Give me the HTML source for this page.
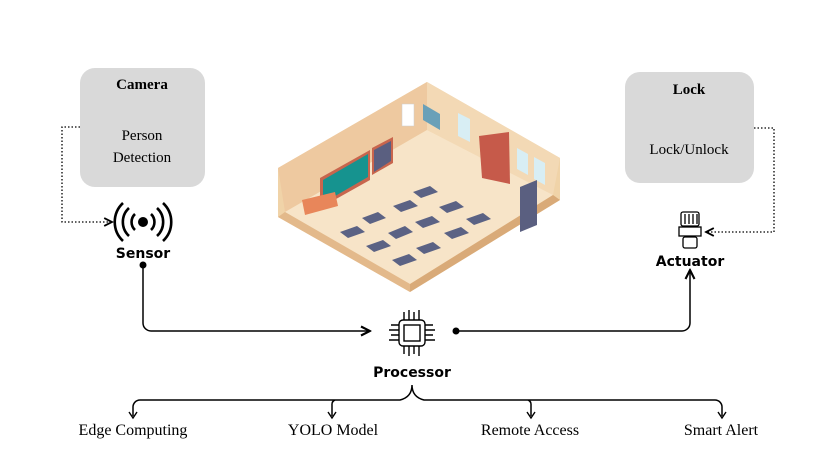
<!DOCTYPE html>
<html><head><meta charset="utf-8"><style>
body{margin:0;background:#fff;}
svg{display:block;}
.serif{font-family:"Liberation Serif",serif;}
.sans{font-family:"DejaVu Sans","Liberation Sans",sans-serif;font-weight:bold;}
</style></head><body>
<svg width="824" height="463" viewBox="0 0 824 463">
<defs>
<marker id="ar" markerWidth="8" markerHeight="8" refX="7" refY="4" orient="auto"><path d="M1,1 L7,4 L1,7" fill="none" stroke="#000" stroke-width="1.4"/></marker>
</defs>
<!-- camera box -->
<g>
<rect x="80" y="68" width="125" height="119" rx="15" fill="#d9d9d9"/>
<text x="142" y="89" text-anchor="middle" class="serif" font-weight="bold" font-size="15">Camera</text>
<text x="142" y="140" text-anchor="middle" class="serif" font-size="15">Person</text>
<text x="142" y="162" text-anchor="middle" class="serif" font-size="15">Detection</text>
</g>
<g>
<rect x="625" y="72" width="129" height="111" rx="15" fill="#d9d9d9"/>
<text x="689" y="94" text-anchor="middle" class="serif" font-weight="bold" font-size="15">Lock</text>
<text x="689" y="154" text-anchor="middle" class="serif" font-size="15">Lock/Unlock</text>
</g>
<!-- dotted connectors -->
<path d="M80,127 H62 V222 H112" fill="none" stroke="#000" stroke-width="1.3" stroke-dasharray="1.5,2" marker-end="url(#ar)"/>
<path d="M754,128 H774 V232 H706" fill="none" stroke="#000" stroke-width="1.3" stroke-dasharray="1.5,2" marker-end="url(#ar)"/>
<!-- sensor icon -->
<g fill="none" stroke="#000" stroke-width="2.6">
<circle cx="143" cy="222" r="5" fill="#000" stroke="none"/>
<path d="M135,214 a11,11 0 0,0 0,16 M151,214 a11,11 0 0,1 0,16"/>
<path d="M129,208 a19,19 0 0,0 0,28 M157,208 a19,19 0 0,1 0,28"/>
<path d="M123,203 a26,26 0 0,0 0,38 M163,203 a26,26 0 0,1 0,38"/>
</g>
<text x="143" y="258" text-anchor="middle" class="sans" font-size="14">Sensor</text>
<!-- actuator icon -->
<g fill="none" stroke="#000" stroke-width="1.3">
<rect x="681" y="212" width="18" height="14" rx="2"/>
<path d="M685,214 v10 M689,214 v10 M693,214 v10 M697,214 v10"/>
<rect x="679" y="227" width="22" height="9"/>
<rect x="683" y="237" width="14" height="11" rx="2"/>
</g>
<text x="690" y="266" text-anchor="middle" class="sans" font-size="14">Actuator</text>
<!-- solid connectors -->
<circle cx="143" cy="265" r="3.5" fill="#000"/>
<path d="M143,265 V323 a8,8 0 0,0 8,8 H370" fill="none" stroke="#000" stroke-width="1.5" marker-end="url(#ar)"/>
<circle cx="456" cy="331" r="3.5" fill="#000"/>
<path d="M456,331 H682 a8,8 0 0,0 8,-8 V270" fill="none" stroke="#000" stroke-width="1.5" marker-end="url(#ar)"/>
<!-- processor icon -->
<g fill="none" stroke="#000" stroke-width="1.4">
<rect x="399" y="320" width="26" height="26" rx="4"/>
<rect x="404" y="325" width="16" height="16"/>
<path d="M404,320 v-8 M409,320 v-10 M414,320 v-8 M419,320 v-10 M404,346 v8 M409,346 v10 M414,346 v8 M419,346 v10 M399,325 h-8 M399,330 h-10 M399,335 h-8 M399,340 h-10 M425,325 h8 M425,330 h10 M425,335 h8 M425,340 h10"/>
</g>
<text x="412" y="377" text-anchor="middle" class="sans" font-size="14">Processor</text>
<!-- brace -->
<path d="M412,385 q0,12 -12,15 H140 a7,7 0 0,0 -7,7 V416 M412,385 q0,12 12,15 H715 a7,7 0 0,1 7,7 V416 M335,400 a5,5 0 0,0 -3,5 V416 M528,400 a5,5 0 0,1 3,5 V416" fill="none" stroke="#000" stroke-width="1.5"/>
<path d="M129,412 L133,418 L137,412 M328,412 L332,418 L336,412 M527,412 L531,418 L535,412 M718,412 L722,418 L726,412" fill="none" stroke="#000" stroke-width="1.4"/>
<text x="133" y="435" text-anchor="middle" class="serif" font-size="16">Edge Computing</text>
<text x="333" y="435" text-anchor="middle" class="serif" font-size="16">YOLO Model</text>
<text x="530" y="435" text-anchor="middle" class="serif" font-size="16">Remote Access</text>
<text x="721" y="435" text-anchor="middle" class="serif" font-size="16">Smart Alert</text>
<!-- classroom illustration -->
<g>
<polygon points="278,168 427,82 560,158 560,200 410,292 278,217" fill="#f0d3a8"/>
<polygon points="278,168 427,82 427,130 285,212" fill="#eec9a0"/>
<polygon points="427,82 560,158 553,195 427,130" fill="#f3d9b5"/>
<polygon points="285,212 427,130 553,195 410,284" fill="#f7e4c8"/>
<polygon points="278,217 410,292 410,284 285,212" fill="#e3b98b"/>
<polygon points="410,292 560,200 553,195 410,284" fill="#d9aa78"/>
<polygon points="320,178 370,150 370,180 320,208" fill="#c8654d"/>
<polygon points="323,180 368,154 368,177 323,203" fill="#16938f"/>
<polygon points="372,148 393,137 393,163 372,175" fill="#c8654d"/>
<polygon points="374,150 391,141 391,161 374,172" fill="#5a5f80"/>
<rect x="402" y="104" width="12" height="22" fill="#fff" stroke="#ccc" stroke-width=".5"/>
<polygon points="423,104 440,114 440,130 423,120" fill="#6aa0b8"/>
<polygon points="479,136 509,132 510,184 482,178" fill="#c65a4a"/>
<polygon points="458,113 470,119 470,142 458,136" fill="#d8eef4"/>
<polygon points="517,148 528,154 528,175 517,169" fill="#d8eef4"/>
<polygon points="534,157 545,163 545,185 534,179" fill="#d8eef4"/>
<polygon points="520,187 537,180 537,225 520,232" fill="#5a5f80"/>
<polygon points="302,200 335,192 338,206 305,215" fill="#e8865a"/>
<g fill="#5b6284">
<polygon points="340,232 357,226 365,232 348,238"/>
<polygon points="362,218 378,212 386,218 370,224"/>
<polygon points="366,246 383,240 391,246 374,252"/>
<polygon points="388,233 405,226 413,232 396,239"/>
<polygon points="392,260 409,254 417,260 400,266"/>
<polygon points="393,206 410,200 418,206 401,212"/>
<polygon points="415,222 432,216 440,222 423,228"/>
<polygon points="413,192 430,186 438,192 421,198"/>
<polygon points="439,207 456,201 464,207 447,213"/>
<polygon points="444,233 461,227 469,233 452,239"/>
<polygon points="466,219 483,213 491,219 474,225"/>
<polygon points="416,248 433,242 441,248 424,254"/>
</g>
</g>
</svg>
</body></html>
